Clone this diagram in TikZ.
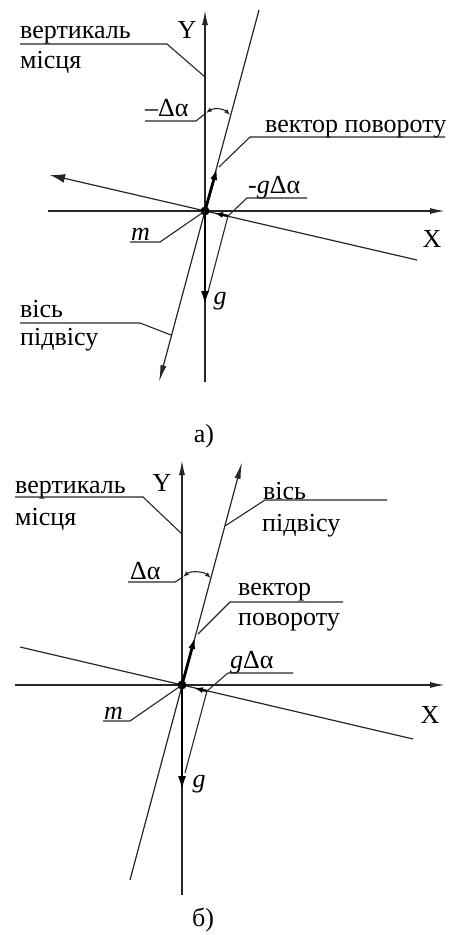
\documentclass[tikz,border=0pt]{standalone}
\usepackage{fontspec}
\setmainfont{Liberation Serif}
\usetikzlibrary{arrows.meta}
\definecolor{LineGray}{HTML}{262626}

\begin{document}
\begin{tikzpicture}[
  x=1pt,y=-1pt,
  axis/.style={
    line width=1.4pt,
    draw=LineGray,
    -{Latex[length=15pt,width=6pt]}
  },
  plain/.style={
    line width=1.2pt,
    draw=LineGray
  },
  vecthick/.style={
    line width=2.8pt,
    draw=black,
    -{Latex[length=15pt,width=8pt]}
  },
  vecshort/.style={
    line width=2.4pt,
    draw=black,
    -{Latex[length=9pt,width=6pt]}
  },
  leader/.style={
    line width=1.1pt,
    draw=LineGray
  },
  anglearc/.style={
    line width=1.1pt,
    draw=LineGray,
    {Latex[length=6pt,width=4.5pt]}-{Latex[length=6pt,width=4.5pt]}
  },
  lbl/.style={
    anchor=base west,
    inner sep=0pt,
    font=\fontsize{26}{28}\selectfont
  },
  axlbl/.style={
    inner sep=0pt,
    font=\fontsize{26}{28}\selectfont
  },
  panellbl/.style={
    inner sep=0pt,
    font=\fontsize{26}{28}\selectfont
  }
]
\useasboundingbox (0,0) rectangle (452,935);

% -------------------------------------------------
% Panel a)
% -------------------------------------------------
\coordinate (Oa)  at (205,211);
\coordinate (YaB) at (205,382);
\coordinate (YaT) at (205,10);
\coordinate (XaL) at (48,211);
\coordinate (XaR) at (445,211);
\coordinate (SaT) at (259,10);
\coordinate (SaB) at (159,382);
\coordinate (RaT) at (217,168);
\coordinate (PaL) at (50,175);
\coordinate (PaR) at (417,260);
\coordinate (Pa)  at (228,216);
\coordinate (Qa)  at (208,292);
\coordinate (Ca)  at (214,213);
\coordinate (Ga)  at (205,306);

\draw[axis] (YaB) -- (YaT);
\draw[axis] (XaL) -- (XaR);
\draw[plain, -{Latex[length=17pt,width=6pt]}] (SaT) -- (SaB);
\draw[plain, -{Latex[length=15pt,width=9pt]}] (PaR) -- (PaL);
\draw[leader] (Pa) -- (Qa);
\draw[vecthick] (Oa) -- (Ga);
\draw[vecthick, -{Latex[length=12pt,width=7pt]}] (Oa) -- (RaT);
\draw[vecshort] (Pa) -- (Ca);
\fill (Oa) circle (4.5pt);

\node[axlbl] (Ya) at (187,30) {Y};
\node[axlbl] (Xa) at (432,239) {X};
\node[axlbl] (gA) at (220,301) {\textit{g}};

% angle between vertical and rotation axis
\coordinate (arcA1) at (206,113);
\coordinate (arcA2) at (230,115);
\draw[anglearc] (arcA1) .. controls (213,108) and (223,108) .. (arcA2);

% labels with leaders
\node[lbl] (vertA) at (20,38) {вертикаль};
\node[lbl] (mistA) at (20,68) {місця};
\coordinate (vertAs) at (20,44);
\coordinate (vertAk) at (167,44);
\coordinate (vertAe) at (205,77);
\draw[leader] (vertAs) -- (vertAk) -- (vertAe);

\node[lbl] (dalA) at (145,116) {–Δα};
\coordinate (dalAs) at (145,121);
\coordinate (dalAk) at (196,121);
\draw[leader] (dalAs) -- (dalAk) -- (arcA1);

\node[lbl] (vecA) at (265,132) {вектор повороту};
\coordinate (vecAs) at (445,137);
\coordinate (vecAk) at (250,137);
\coordinate (vecAe) at (219,167);
\draw[leader] (vecAs) -- (vecAk) -- (vecAe);

\node[lbl] (gdaA) at (248,193) {-\textit{g}Δα};
\coordinate (gdaAs) at (307,198);
\coordinate (gdaAk) at (247,198);
\draw[leader] (gdaAs) -- (gdaAk) -- (Pa);

\node[lbl] (mA) at (131,240) {\textit{m}};
\coordinate (mAs) at (130,242);
\coordinate (mAk) at (160,242);
\draw[leader] (mAs) -- (mAk) -- (Oa);

\node[lbl] (visA) at (20,317) {вісь};
\node[lbl] (pidA) at (20,345) {підвісу};
\coordinate (visAs) at (20,323);
\coordinate (visAk) at (140,323);
\coordinate (visAe) at (171,335);
\draw[leader] (visAs) -- (visAk) -- (visAe);

\node[panellbl] (capA) at (204,436) {а)};

% -------------------------------------------------
% Panel b)
% -------------------------------------------------
\coordinate (Ob)  at (182,685);
\coordinate (YbB) at (182,895);
\coordinate (YbT) at (182,460);
\coordinate (XbL) at (15,685);
\coordinate (XbR) at (445,685);
\coordinate (SbT) at (242,462);
\coordinate (SbB) at (130,880);
\coordinate (RbT) at (195,637);
\coordinate (PbL) at (20,647);
\coordinate (PbR) at (413,739);
\coordinate (Pb)  at (207,691);
\coordinate (Qb)  at (185,773);
\coordinate (Cb)  at (194,688);
\coordinate (Gb)  at (182,791);

\draw[axis] (YbB) -- (YbT);
\draw[axis] (XbL) -- (XbR);
\draw[plain, -{Latex[length=17pt,width=6pt]}] (SbB) -- (SbT);
\draw[plain] (PbL) -- (PbR);
\draw[leader] (Pb) -- (Qb);
\draw[vecthick] (Ob) -- (Gb);
\draw[vecthick, -{Latex[length=12pt,width=7pt]}] (Ob) -- (RbT);
\draw[vecshort] (Pb) -- (Cb);
\fill (Ob) circle (4.5pt);

\node[axlbl] (Yb) at (162,483) {Y};
\node[axlbl] (Xb) at (430,715) {X};
\node[axlbl] (gB) at (199,784) {\textit{g}};

% angle between vertical and rotation axis
\coordinate (arcB1) at (183,577);
\coordinate (arcB2) at (211,578);
\draw[anglearc] (arcB1) .. controls (190,571) and (203,571) .. (arcB2);

% labels with leaders
\node[lbl] (vertB) at (15,493) {вертикаль};
\node[lbl] (mistB) at (15,525) {місця};
\coordinate (vertBs) at (15,497);
\coordinate (vertBk) at (143,497);
\coordinate (vertBe) at (182,534);
\draw[leader] (vertBs) -- (vertBk) -- (vertBe);

\node[lbl] (visB) at (263,499) {вісь};
\node[lbl] (pidB) at (262,531) {підвісу};
\coordinate (visBs) at (387,500);
\coordinate (visBk) at (265,500);
\coordinate (visBe) at (225,526);
\draw[leader] (visBs) -- (visBk) -- (visBe);

\node[lbl] (dalB) at (130,579) {Δα};
\coordinate (dalBs) at (128,582);
\coordinate (dalBk) at (175,582);
\draw[leader] (dalBs) -- (dalBk) -- (arcB1);

\node[lbl] (vecB) at (238,595) {вектор};
\node[lbl] (povB) at (238,625) {повороту};
\coordinate (vecBs) at (343,602);
\coordinate (vecBk) at (230,602);
\coordinate (vecBe) at (198,634);
\draw[leader] (vecBs) -- (vecBk) -- (vecBe);

\node[lbl] (gdaB) at (230,668) {\textit{g}Δα};
\coordinate (gdaBs) at (293,673);
\coordinate (gdaBk) at (228,673);
\draw[leader] (gdaBs) -- (gdaBk) -- (Pb);

\node[lbl] (mB) at (104,719) {\textit{m}};
\coordinate (mBs) at (103,721);
\coordinate (mBk) at (130,721);
\draw[leader] (mBs) -- (mBk) -- (Ob);

\node[panellbl] (capB) at (203,920) {б)};

\end{tikzpicture}
\end{document}
